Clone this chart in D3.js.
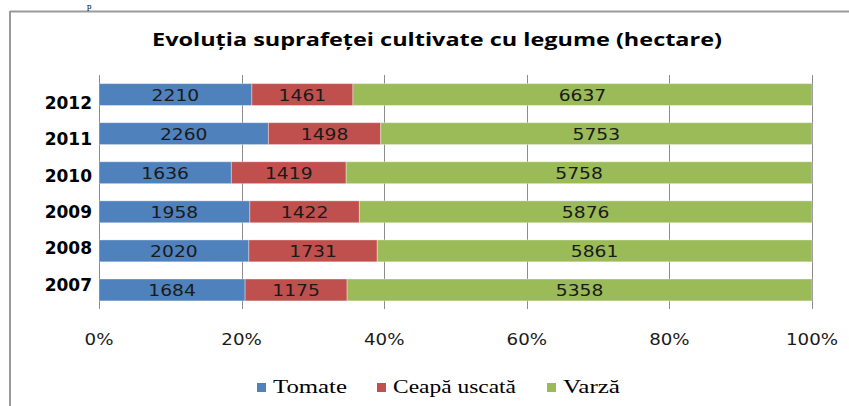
<!DOCTYPE html>
<html>
<head>
<meta charset="utf-8">
<script src="https://cdn.jsdelivr.net/npm/d3@7"></script>
<style>
  html, body { margin: 0; padding: 0; background: #fff; }
  svg { display: block; }
</style>
</head>
<body>
<svg id="chart" width="849" height="406"></svg>
<script>
const title = "Evoluția suprafeței cultivate cu legume (hectare)";
const years = ["2007", "2008", "2009", "2010", "2011", "2012"];
const seriesNames = ["Tomate", "Ceapă uscată", "Varză"];
const tomate = [1684, 2020, 1958, 1636, 2260, 2210];
const ceapa  = [1175, 1731, 1422, 1419, 1498, 1461];
const varza  = [5358, 5861, 5876, 5758, 5753, 6637];
const seriesColors = ["#4F81BD", "#C0504D", "#9BBB59"];
const tickValues = [0, 0.2, 0.4, 0.6, 0.8, 1.0];

const rows = years.map((y, i) => ({ year: y, Tomate: tomate[i], "Ceapă uscată": ceapa[i], "Varză": varza[i] }));
const stacked = d3.stack().keys(seriesNames).offset(d3.stackOffsetExpand)(rows);

const svg = d3.select("#chart");

// frame lines
svg.append("line").attr("x1", 10).attr("x2", 849).attr("y1", 11.5).attr("y2", 11.5)
  .attr("stroke", "#9a9a9a").attr("stroke-width", 2);
svg.append("line").attr("x1", 10).attr("x2", 10).attr("y1", 11).attr("y2", 406)
  .attr("stroke", "#9a9a9a").attr("stroke-width", 2);
// small glyph from text above the chart
svg.append("text").attr("x", 87).attr("y", 8.5).attr("font-family", "Liberation Serif")
  .attr("font-size", 9).attr("fill", "#000").text("p");

const x = d3.scaleLinear().domain([0, 1]).range([99, 812]);
const y = d3.scaleBand().domain(years.slice().reverse()).range([75, 309.5])
  .paddingInner(0.44).paddingOuter(0.22);
const yLabel = d3.scalePoint().domain(years.slice().reverse()).range([102.5, 284]);

// title
svg.append("text").attr("x", 152).attr("y", 46)
  .attr("font-family", "Open Sans").attr("font-weight", "bold").attr("font-size", 17)
  .attr("textLength", 570).attr("lengthAdjust", "spacingAndGlyphs")
  .attr("fill", "#000").text(title);

// gridlines
svg.append("g").selectAll("line").data(tickValues).join("line")
  .attr("x1", d => Math.round(x(d)) + 0.5).attr("x2", d => Math.round(x(d)) + 0.5)
  .attr("y1", 75).attr("y2", 309)
  .attr("stroke", "#8c8c8c").attr("stroke-width", 1);

// bars
const layers = svg.append("g").selectAll("g").data(stacked).join("g")
  .attr("fill", (d, i) => seriesColors[i]);
layers.selectAll("rect").data(d => d).join("rect")
  .attr("x", d => x(d[0]))
  .attr("width", d => x(d[1]) - x(d[0]))
  .attr("y", d => y(d.data.year))
  .attr("height", y.bandwidth())
  .attr("stroke", "rgba(255,255,255,0.35)").attr("stroke-width", 1);

// data labels
stacked.forEach(layer => {
  layer.forEach(d => {
    const cx = (x(d[0]) + x(d[1])) / 2;
    const cy = y(d.data.year) + y.bandwidth() / 2;
    svg.append("g").attr("transform", `translate(${cx},${cy + 6}) scale(1.17,1)`)
      .append("text").attr("text-anchor", "middle")
      .attr("font-family", "DejaVu Sans").attr("font-size", 16).attr("fill", "#1a1a1a")
      .text(d.data[layer.key]);
  });
});

// year labels
svg.append("g").selectAll("text").data(years).join("text")
  .attr("x", 92).attr("y", d => yLabel(d) + 6.5)
  .attr("text-anchor", "end")
  .attr("font-family", "DejaVu Sans").attr("font-weight", "bold").attr("font-size", 17)
  .attr("fill", "#000").text(d => d);

// x tick labels
const fmt = d3.format(".0%");
tickValues.forEach(t => {
  svg.append("g").attr("transform", `translate(${x(t)},345) scale(1.14,1)`)
    .append("text").attr("text-anchor", "middle")
    .attr("font-family", "DejaVu Sans").attr("font-size", 16).attr("fill", "#1a1a1a")
    .text(fmt(t));
});

// legend
const legendSquares = [257, 377, 547];
const legendText = [[273, 74], [393, 123], [563, 57]];
seriesNames.forEach((name, i) => {
  svg.append("rect").attr("x", legendSquares[i]).attr("y", 383).attr("width", 9).attr("height", 9)
    .attr("fill", seriesColors[i]);
  svg.append("text").attr("x", legendText[i][0]).attr("y", 392.5)
    .attr("font-family", "Liberation Serif").attr("font-size", 19)
    .attr("textLength", legendText[i][1]).attr("lengthAdjust", "spacingAndGlyphs")
    .attr("fill", "#000").text(name);
});
</script>
</body>
</html>
